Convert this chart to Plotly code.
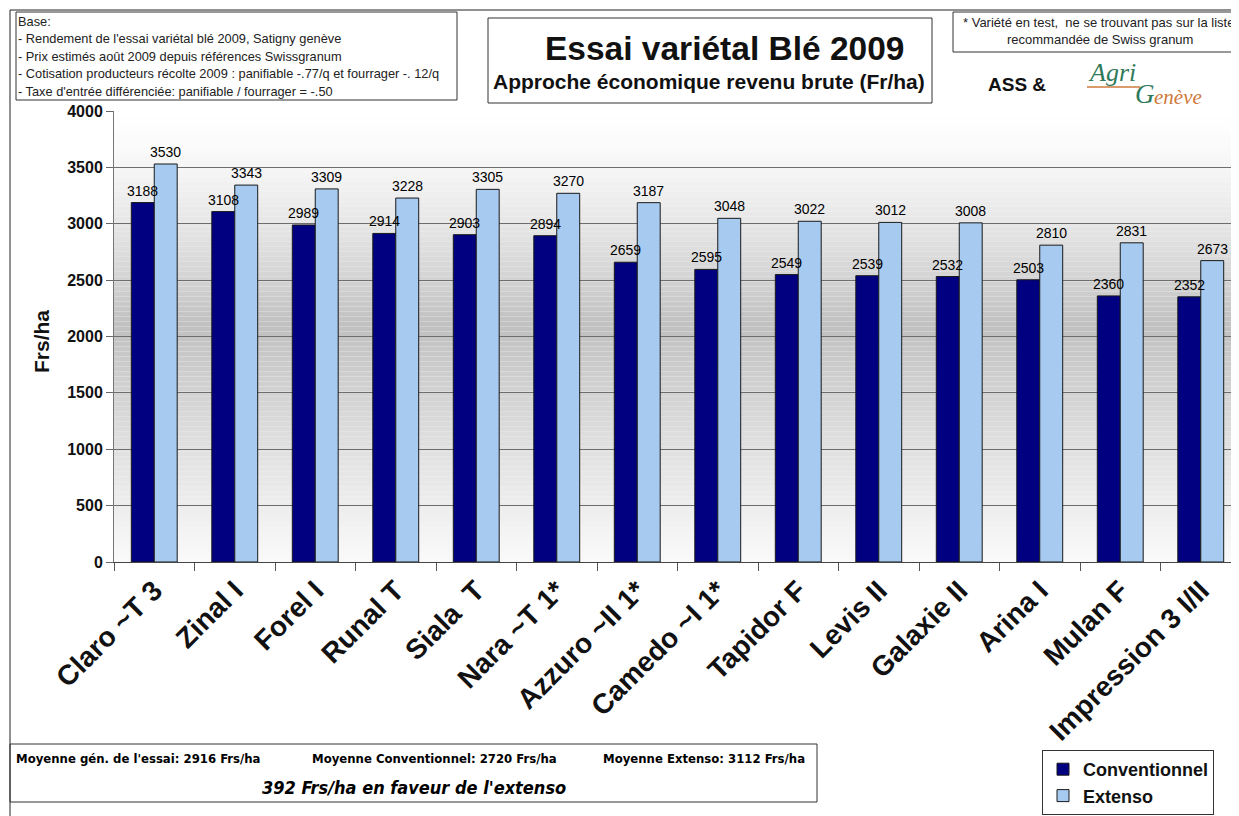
import plotly.graph_objects as go

categories = ["Claro ~T 3", "Zinal I", "Forel I", "Runal T", "Siala  T", "Nara ~T 1*",
              "Azzuro ~II 1*", "Camedo ~I 1*", "Tapidor F", "Levis II", "Galaxie II",
              "Arina I", "Mulan F", "Impression 3 I/II"]
conventionnel = [3188, 3108, 2989, 2914, 2903, 2894, 2659, 2595, 2549, 2539, 2532, 2503, 2360, 2352]
extenso = [3530, 3343, 3309, 3228, 3305, 3270, 3187, 3048, 3022, 3012, 3008, 2810, 2831, 2673]
y_ticks = [0, 500, 1000, 1500, 2000, 2500, 3000, 3500, 4000]

# page body has an 8px margin: figure is drawn offset by (8, 8)
OFF = 8
W, H = 1239 - OFF, 816 - OFF
# plot area in reference-image pixels
L, R, T, B = 114, 1239, 111, 562
FONT = "Arial, Liberation Sans, sans-serif"
NARROW = "Liberation Sans Narrow, Arial Narrow, DejaVu Sans Condensed, Liberation Sans, sans-serif"
SERIF = "Liberation Serif, DejaVu Serif, serif"


def px(x):
    return (x - L) / (R - L)


def py(y):
    return (B - y) / (B - T)


C_CONV = "#000080"
C_EXT = "#A6CAF0"
bargap = 0.43
cat_px = 80.5
bar_w = cat_px * (1 - bargap) / 2

fig = go.Figure()
fig.add_trace(go.Bar(x=categories, y=conventionnel, name="Conventionnel",
                     marker=dict(color=C_CONV, line=dict(color="#1a1a1a", width=1))))
fig.add_trace(go.Bar(x=categories, y=extenso, name="Extenso",
                     marker=dict(color=C_EXT, line=dict(color="#1a1a1a", width=1))))

annotations = []
for cat, v in zip(categories, conventionnel):
    annotations.append(dict(x=cat, y=v, xref="x", yref="y", text=str(v), showarrow=False,
                            xshift=-bar_w / 2, yanchor="bottom", yshift=2,
                            font=dict(family=FONT, size=14, color="black")))
for cat, v in zip(categories, extenso):
    annotations.append(dict(x=cat, y=v, xref="x", yref="y", text=str(v), showarrow=False,
                            xshift=bar_w / 2, yanchor="bottom", yshift=2,
                            font=dict(family=FONT, size=14, color="black")))

shapes = []
# gradient background of the plot area
n = 90
for i in range(n):
    f0, f1 = i / n, (i + 1) / n
    fm = (f0 + f1) / 2
    if fm < 0.48:
        t = fm / 0.48
        g = 255 - (255 - 192) * (t ** 1.4)
    else:
        t = (fm - 0.48) / 0.52
        g = 192 + (250 - 192) * (t ** 0.9)
    g = int(round(g))
    shapes.append(dict(type="rect", xref="paper", yref="paper", x0=0, x1=1,
                       y0=1 - f1, y1=1 - f0, fillcolor=f"rgb({g},{g},{g})",
                       line=dict(width=0), layer="below"))


def box(x0, y0, x1, y1, color="#333", width=1):
    shapes.append(dict(type="rect", xref="paper", yref="paper", x0=px(x0), x1=px(x1),
                       y0=py(y1), y1=py(y0), line=dict(color=color, width=width),
                       fillcolor="rgba(0,0,0,0)", layer="above"))


def line(x0, y0, x1, y1, color="#222", width=1):
    shapes.append(dict(type="line", xref="paper", yref="paper", x0=px(x0), x1=px(x1),
                       y0=py(y0), y1=py(y1), line=dict(color=color, width=width)))


def text(x, y, s, size=12, xanchor="left", color="black", family=FONT, weight="normal",
         style="normal", angle=0):
    annotations.append(dict(x=px(x), y=py(y), xref="paper", yref="paper", text=s,
                            showarrow=False, xanchor=xanchor, yanchor="middle",
                            textangle=angle,
                            font=dict(family=family, size=size, color=color,
                                      weight=weight, style=style)))


# outer frame
line(10, 10, 1239, 10)
line(10, 10, 10, 816)

# top-left base box
box(16, 12, 457, 100)
base_lines = ["Base:",
              "- Rendement de l'essai variétal blé 2009, Satigny genève",
              "- Prix estimés août 2009 depuis références Swissgranum",
              "- Cotisation producteurs récolte 2009 : panifiable -.77/q et fourrager -. 12/q",
              "- Taxe d'entrée différenciée: panifiable / fourrager = -.50"]
for i, s in enumerate(base_lines):
    text(16, 21 + i * 17.6, s, size=12.8, color="#222")

# title box
box(488, 18, 932, 103)
text(724, 48, "Essai variétal Blé 2009", size=33.5, xanchor="center", weight="bold", color="#111")
text(709, 81, "Approche économique revenu brute (Fr/ha)", size=21, xanchor="center",
     weight="bold", color="#111")

# top-right note box
box(953, 12, 1238, 52)
text(1098, 22, "* Variété en test,  ne se trouvant pas sur la liste", size=13,
     xanchor="center", color="#222")
text(1100, 40, "recommandée de Swiss granum", size=13, xanchor="center", color="#222")

# logos
text(1017, 84, "ASS &", size=19, xanchor="center", weight="bold", color="#111")
GREEN = "#2f7a5a"
ORANGE = "#cf7a3c"
text(1086, 72, "Agri", size=26, family=SERIF, style="italic", color=GREEN)
line(1087, 87, 1140, 87, color=ORANGE, width=1.5)
text(1133, 94, "G", size=27, family=SERIF, style="italic", color=GREEN)
text(1152, 97, "enève", size=21, family=SERIF, style="italic", color=ORANGE)

# y-axis title
text(41, 342, "Frs/ha", size=21, xanchor="center", weight="bold", angle=-90, color="#111")

# bottom summary box
box(10, 744, 817, 802)
text(14, 758, "Moyenne gén. de l'essai: 2916 Frs/ha", size=13, family=NARROW, weight="bold")
text(310, 758, "Moyenne Conventionnel: 2720 Frs/ha", size=13, family=NARROW, weight="bold")
text(601, 758, "Moyenne Extenso: 3112 Frs/ha", size=13, family=NARROW, weight="bold")
text(414, 787, "392 Frs/ha en faveur de l'extenso", size=18, family=NARROW, weight="bold",
     style="italic", xanchor="center")

fig.update_layout(
    width=W, height=H,
    margin=dict(l=L - OFF, r=W - (R - OFF), t=T - OFF, b=H - (B - OFF), pad=0,
                autoexpand=False),
    paper_bgcolor="white",
    plot_bgcolor="rgba(0,0,0,0)",
    barmode="group", bargap=bargap, bargroupgap=0,
    shapes=shapes, annotations=annotations,
    font=dict(family=FONT, color="black"),
    legend=dict(xref="container", yref="container",
                x=(1042 - OFF) / W, y=1 - (750 - OFF) / H, xanchor="left", yanchor="top",
                bordercolor="#333", borderwidth=1, bgcolor="white",
                font=dict(family=FONT, size=18, weight="bold", color="#111"),
                itemwidth=30, tracegroupgap=0),
    showlegend=True,
)
fig.update_xaxes(range=[-0.5, -0.5 + (R - L) / cat_px], tickangle=-45,
                 tickfont=dict(family=FONT, size=28, weight="bold", color="#111"),
                 ticks="outside", tickson="boundaries", ticklen=8, tickcolor="#555",
                 showline=True, linecolor="#444", linewidth=1, showgrid=False,
                 automargin=False)
fig.update_yaxes(range=[0, 4000], tickvals=y_ticks,
                 tickfont=dict(family=FONT, size=16, weight="bold", color="#111"),
                 ticks="outside", ticklen=7, tickcolor="#666",
                 showline=True, linecolor="#777", linewidth=1,
                 showgrid=True, gridcolor="#6e6e6e", gridwidth=1, zeroline=False,
                 automargin=False)

fig.write_html("out.html")
